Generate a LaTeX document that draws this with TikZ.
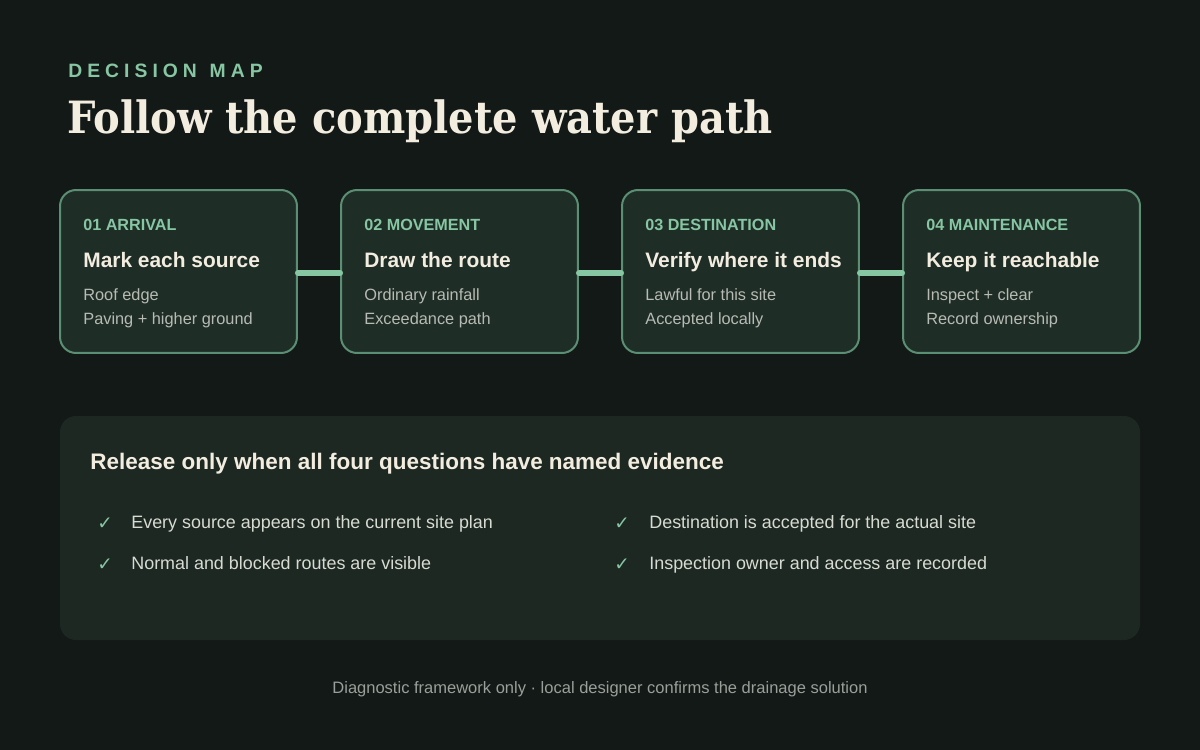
\documentclass[tikz,border=0pt]{standalone}
\usepackage{fontspec}
\setmainfont{Liberation Sans}
\newfontfamily\titlefont{DejaVu Serif Condensed}
\newfontfamily\symfont{DejaVu Sans}
\definecolor{bgcol}{HTML}{131917}
\definecolor{boxcol}{HTML}{1F2D27}
\definecolor{edgecol}{HTML}{5B8F74}
\definecolor{mint}{HTML}{86C6A2}
\definecolor{cream}{HTML}{F3EDE0}
\definecolor{greytext}{HTML}{B7BBB3}
\definecolor{panelcol}{HTML}{1D2823}
\definecolor{listtext}{HTML}{D8DBD2}
\definecolor{foottext}{HTML}{9A9F99}
\tikzset{
	stage/.style={draw=edgecol,fill=boxcol,line width=0.04cm,rounded corners=0.32cm,
		minimum width=4.74cm,minimum height=3.26cm,inner sep=0pt},
	tag/.style={anchor=base west,inner sep=0pt,text=mint,font=\fontsize{9.2}{11}\selectfont\bfseries},
	head/.style={anchor=base west,inner sep=0pt,text=cream,font=\fontsize{11.9}{14}\selectfont\bfseries},
	line/.style={anchor=base west,inner sep=0pt,text=greytext,font=\fontsize{9.3}{11}\selectfont},
	tick/.style={anchor=base west,inner sep=0pt,text=mint,font=\fontsize{10.5}{12}\selectfont\symfont},
	item/.style={anchor=base west,inner sep=0pt,text=listtext,font=\fontsize{10.2}{12}\selectfont},
	link/.style={mint,line width=0.12cm,line cap=round}
}
\begin{document}
\begin{tikzpicture}[x=0.02cm,y=-0.02cm]
		%
		\fill[bgcol] (0,0) rectangle (1200,750);
		\useasboundingbox (0,0) rectangle (1200,750);
		%
		\node[anchor=base west,inner sep=0pt,text=mint,
			font=\fontsize{11}{13}\selectfont\bfseries\addfontfeature{LetterSpace=26}]
			(kicker) at (68,78) {DECISION\hspace{0.12em} MAP};
		\node[anchor=base west,inner sep=0pt,text=cream,font=\fontsize{25.3}{30}\selectfont\titlefont\bfseries]
			(title) at (67,133) {Follow the complete water path};
		%
		\node[stage] (box1) at (178.5,271.5) {};
		\node[stage] (box2) at (459.5,271.5) {};
		\node[stage] (box3) at (740.5,271.5) {};
		\node[stage] (box4) at (1021.5,271.5) {};
		%
		\draw[link] ([yshift=-0.03cm]box1.east) -- ([yshift=-0.03cm]box2.west);
		\draw[link] ([yshift=-0.03cm]box2.east) -- ([yshift=-0.03cm]box3.west);
		\draw[link] ([yshift=-0.03cm]box3.east) -- ([yshift=-0.03cm]box4.west);
		%
		\node[tag] (t1) at (83,230) {01 ARRIVAL};
		\node[head] (h1) at (83,267) {Mark each source};
		\node[line] (a1) at (83,300) {Roof edge};
		\node[line] (b1) at (83,324) {Paving + higher ground};
		%
		\node[tag] (t2) at (364,230) {02 MOVEMENT};
		\node[head] (h2) at (364,267) {Draw the route};
		\node[line] (a2) at (364,300) {Ordinary rainfall};
		\node[line] (b2) at (364,324) {Exceedance path};
		%
		\node[tag] (t3) at (645,230) {03 DESTINATION};
		\node[head] (h3) at (645,267) {Verify where it ends};
		\node[line] (a3) at (645,300) {Lawful for this site};
		\node[line] (b3) at (645,324) {Accepted locally};
		%
		\node[tag] (t4) at (926,230) {04 MAINTENANCE};
		\node[head] (h4) at (926,267) {Keep it reachable};
		\node[line] (a4) at (926,300) {Inspect + clear};
		\node[line] (b4) at (926,324) {Record ownership};
		%
		\fill[panelcol,rounded corners=0.32cm] (60,416) rectangle (1140,640);
		\node[head,font=\fontsize{12.8}{15}\selectfont\bfseries] (check) at (90,469)
			{Release only when all four questions have named evidence};
		%
		\node[tick] (k1) at (97,529) {✓};
		\node[item] (i1) at (131,528) {Every source appears on the current site plan};
		\node[tick] (k2) at (97,570) {✓};
		\node[item] (i2) at (131,569) {Normal and blocked routes are visible};
		\node[tick] (k3) at (614,529) {✓};
		\node[item] (i3) at (649,528) {Destination is accepted for the actual site};
		\node[tick] (k4) at (614,570) {✓};
		\node[item] (i4) at (649,569) {Inspection owner and access are recorded};
		%
		\node[anchor=base,inner sep=0pt,text=foottext,font=\fontsize{9.4}{11}\selectfont]
			(foot) at (600,693) {Diagnostic framework only · local designer confirms the drainage solution};
\end{tikzpicture}
\end{document}
